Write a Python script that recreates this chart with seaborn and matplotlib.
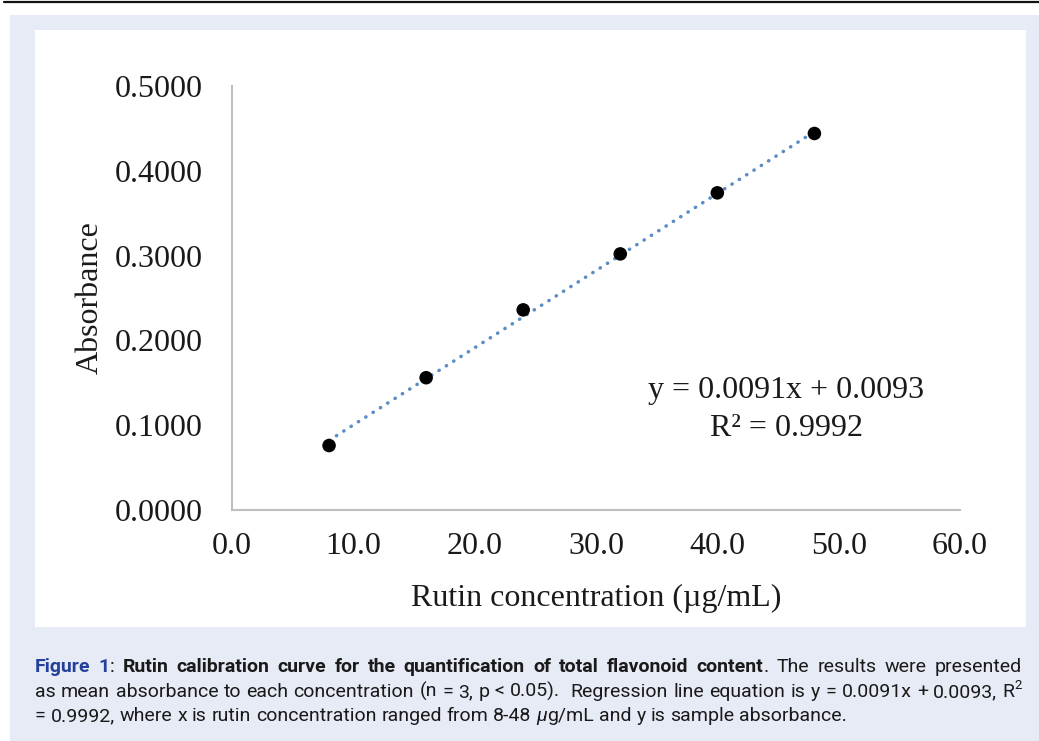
import numpy as np
import pandas as pd
import matplotlib
matplotlib.use("Agg")
import matplotlib.pyplot as plt
import seaborn as sns
from matplotlib import font_manager
from matplotlib.patches import Rectangle
from matplotlib.lines import Line2D

# ---------------- data ----------------
concentration = [8, 16, 24, 32, 40, 48]
absorbance = [0.076, 0.156, 0.236, 0.302, 0.374, 0.444]
slope = 0.0091
intercept = 0.0093
x_ticks = [0, 10, 20, 30, 40, 50, 60]
x_tick_labels = ["0.0", "10.0", "20.0", "30.0", "40.0", "50.0", "60.0"]
y_ticks = [0.0, 0.1, 0.2, 0.3, 0.4, 0.5]
y_tick_labels = ["0.0000", "0.1000", "0.2000", "0.3000", "0.4000", "0.5000"]
x_label = "Rutin concentration (µg/mL)"
y_label = "Absorbance"
equation_lines = ["y = 0.0091x + 0.0093", "R² = 0.9992"]

caption_lines = [
    [("Figure 1", "blue"), (":", "reg"),
     (" Rutin calibration curve for the quantification of total flavonoid content", "bold"),
     (". The results were presented", "reg")],
    [("as mean absorbance to each concentration (n = 3, p < 0.05).  Regression line equation is y = 0.0091x + 0.0093, R", "reg"),
     ("2", "sup")],
    [("= 0.9992, where x is rutin concentration ranged from 8-48 ", "reg"), ("\u03bc", "it"),
     ("g/mL and y is sample absorbance.", "reg")],
]

# ---------------- figure ----------------
W, H = 1039, 741
sns.set_theme(style="white")
serif = ["Liberation Serif", "DejaVu Serif"]
plt.rcParams["font.family"] = serif

fig = plt.figure(figsize=(W / 100, H / 100), dpi=100, facecolor="white")

def px_rect(x0, y0, x1, y1, color, z):
    fig.add_artist(Rectangle((x0 / W, 1 - y1 / H), (x1 - x0) / W, (y1 - y0) / H,
                             transform=fig.transFigure, facecolor=color,
                             edgecolor="none", zorder=z))

px_rect(10, 15, W, H, "#E7EBF6", -3)
px_rect(35, 30, 1026, 627, "white", -2)
fig.add_artist(Line2D([4 / W, 1.0], [1 - 2 / H, 1 - 2 / H], transform=fig.transFigure,
                      color="#111111", lw=1.6, zorder=-1))

ax = fig.add_axes([232 / W, 1 - 510 / H, 728 / W, 424 / H])
ax.set_facecolor("white")

df_pts = pd.DataFrame({"x": concentration, "y": absorbance})
trend_x = np.array([min(concentration), max(concentration)], dtype=float)
df_trend = pd.DataFrame({"x": trend_x, "y": slope * trend_x + intercept})

sns.lineplot(data=df_trend, x="x", y="y", ax=ax, color="#5B8CC4", lw=2.5,
             dashes=False, zorder=2)
ax.lines[-1].set_linestyle((0, (0.1, 2.4)))
ax.lines[-1].set_dash_capstyle("round")
sns.scatterplot(data=df_pts, x="x", y="y", ax=ax, color="black", s=95,
                edgecolor="none", zorder=3)

ax.set_xlim(0, 60)
ax.set_ylim(0, 0.5)
ax.set_xticks(x_ticks, x_tick_labels)
ax.set_yticks(y_ticks, y_tick_labels)
for s in ["top", "right"]:
    ax.spines[s].set_visible(False)
for s in ["left", "bottom"]:
    ax.spines[s].set_color("#BFBFBF")
    ax.spines[s].set_linewidth(1.5)
ax.tick_params(axis="both", direction="in", length=8, width=1.5, color="#BFBFBF",
               labelsize=23, labelcolor="#1a1a1a")
ax.tick_params(axis="y", pad=21)
ax.tick_params(axis="x", pad=16)
ax.grid(False)

ax.set_xlabel(x_label, fontsize=23, color="#1a1a1a", va="top")
ax.set_ylabel(y_label, fontsize=23, color="#1a1a1a")
ax.xaxis.set_label_coords(0.5, -0.175)
ax.yaxis.set_label_coords(-0.175, 0.5)

ax.text(45.7, 0.132, equation_lines[0], ha="center", va="baseline", fontsize=23, color="#1a1a1a")
ax.text(45.7, 0.0873, equation_lines[1], ha="center", va="baseline", fontsize=23, color="#1a1a1a")

# ---------------- caption ----------------
fonts = font_manager.fontManager.ttflist
def has_bold(name):
    ws = [f.weight for f in fonts if f.name == name]
    if not ws:
        return False
    num = []
    for w in ws:
        if isinstance(w, str):
            w = font_manager.weight_dict.get(w, 400)
        num.append(w)
    return max(num) >= 600 and min(num) <= 500

candidates = ["Roboto", "Lato", "Open Sans", "Noto Sans", "Liberation Sans"]
cap_family = next((c for c in candidates if has_bold(c)), "DejaVu Sans")
renderer = fig.canvas.get_renderer()

def style_kw(style, size):
    kw = dict(family=[cap_family, "DejaVu Sans"], fontsize=size, color="#1a1a1a",
              fontweight="normal", fontstyle="normal")
    if style == "blue":
        kw.update(fontweight="bold", color="#24409A")
    elif style == "bold":
        kw.update(fontweight="bold")
    elif style == "it":
        kw.update(fontstyle="italic")
    elif style == "sup":
        kw.update(fontsize=size * 0.68)
    return kw

def measure(s, style, size):
    t = fig.text(0, 0, s, **style_kw(style, size))
    w = t.get_window_extent(renderer).width
    t.remove()
    return w

def tokenize(line):
    words = []
    cur = []
    gap = 0
    for seg, style in line:
        for ch in seg:
            if ch == " ":
                if cur:
                    words.append((gap, cur))
                    cur = []
                    gap = 0
                gap += 1
            else:
                if cur and cur[-1][1] == style:
                    cur[-1] = (cur[-1][0] + ch, style)
                else:
                    cur.append((ch, style))
    if cur:
        words.append((gap, cur))
    return words

def layout(line, size):
    words = tokenize(line)
    space = measure("x x", "reg", size) - measure("xx", "reg", size)
    widths = [[measure(t, st, size) for t, st in runs] for _, runs in words]
    return words, widths, space

def natural_width(line, size):
    words, widths, space = layout(line, size)
    total = sum(sum(w) for w in widths)
    total += sum(g for g, _ in words[1:]) * space
    return total

x_left, x_right = 35, 1022
target = x_right - x_left
base = 10.0
cap_size = min(14.0, base * target / natural_width(caption_lines[0], base))

baselines = [672, 697, 721]
justify = [True, True, False]
for line, yb, just in zip(caption_lines, baselines, justify):
    words, widths, space = layout(line, cap_size)
    gaps = sum(g for g, _ in words[1:])
    wsum = sum(sum(w) for w in widths)
    gap_w = (target - wsum) / gaps if (just and gaps) else space
    x = x_left
    for i, ((g, runs), ws) in enumerate(zip(words, widths)):
        if i > 0:
            x += g * gap_w
        for (t, st), w in zip(runs, ws):
            dy = cap_size * 0.42 * 100 / 72 if st == "sup" else 0
            fig.text(x / W, 1 - (yb - dy) / H, t, ha="left", va="baseline",
                     **style_kw(st, cap_size))
            x += w

fig.savefig("out.png", dpi=100, facecolor="white")
